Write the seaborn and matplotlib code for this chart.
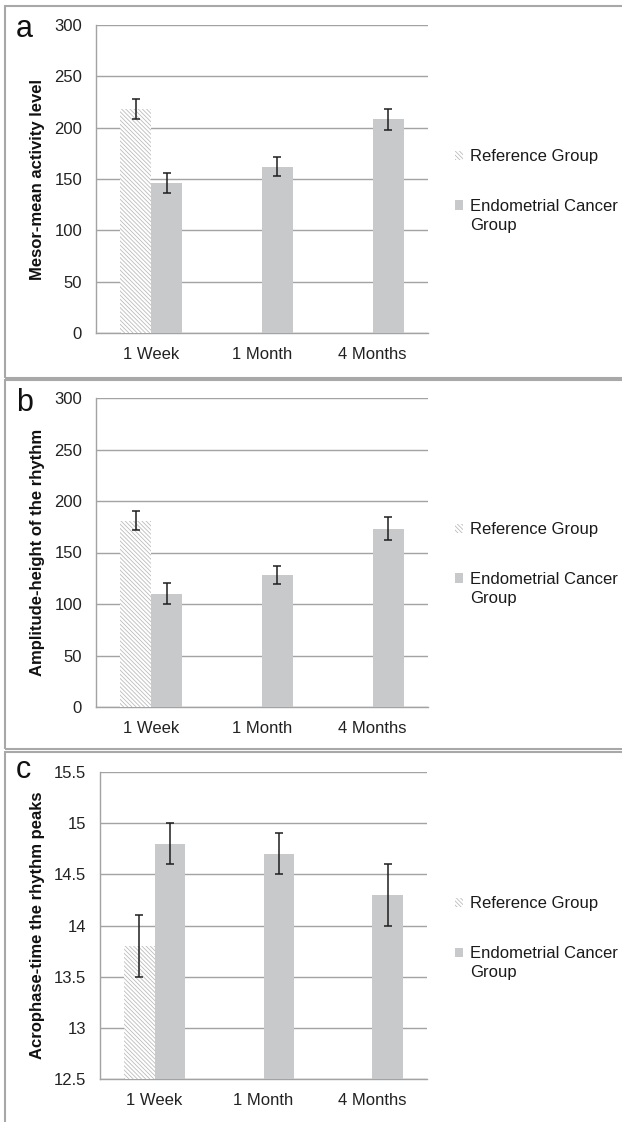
import numpy as np
import pandas as pd
import matplotlib
matplotlib.use("Agg")
import matplotlib.pyplot as plt
from matplotlib.patches import Patch, Rectangle
from matplotlib.legend_handler import HandlerPatch
import seaborn as sns

# ---------------- data ----------------
times = ["1 Week", "1 Month", "4 Months"]
groups = ["Reference Group", "Endometrial Cancer\nGroup"]

# panel a: Mesor
mesor_ref = [218]
mesor_ref_err = [10]
mesor_ec = [146, 162, 208]
mesor_ec_err = [10, 9, 10]

# panel b: Amplitude
amp_ref = [181]
amp_ref_err = [9.5]
amp_ec = [110, 128, 173]
amp_ec_err = [10, 9, 11]

# panel c: Acrophase
acro_ref = [13.8]
acro_ref_err = [0.3]
acro_ec = [14.8, 14.7, 14.3]
acro_ec_err = [0.2, 0.2, 0.3]

panel_letters = ["a", "b", "c"]
ylabels = ["Mesor-mean activity level",
           "Amplitude-height of the rhythm",
           "Acrophase-time the rhythm peaks"]
yticks_list = [[0, 50, 100, 150, 200, 250, 300],
               [0, 50, 100, 150, 200, 250, 300],
               [12.5, 13, 13.5, 14, 14.5, 15, 15.5]]
ytick_labels_list = [["0", "50", "100", "150", "200", "250", "300"],
                     ["0", "50", "100", "150", "200", "250", "300"],
                     ["12.5", "13", "13.5", "14", "14.5", "15", "15.5"]]

# ---------------- style ----------------
sns.set_theme(style="white")
plt.rcParams["font.family"] = ["Liberation Sans", "DejaVu Sans"]
plt.rcParams["hatch.linewidth"] = 0.6
HATCH_GRAY = "#bcbcbc"
plt.rcParams["hatch.color"] = HATCH_GRAY
EC_GRAY = "#c8c9cb"
GRID_GRAY = "#a3a3a3"
BORDER_GRAY = "#a8a8a8"
HATCH = "\\" * 8
FS = 12

W, H = 622, 1122
fig = plt.figure(figsize=(W / 100, H / 100), dpi=100)

# axes placement in pixels: (left, right, top, bottom)
axes_px = [(96, 428, 25, 333), (96, 428, 398, 707), (100, 427, 772, 1079)]
borders_px = [(5, 6, 378), (5, 380, 749), (5, 752, 1135)]
letter_base_px = [37, 411, 778]


def shifted_square(legend, orig_handle, xdescent, ydescent, width, height, fontsize):
    return Rectangle((-xdescent, -ydescent + 0.65 * fontsize), width, height)


panels = [
    (mesor_ref, mesor_ref_err, mesor_ec, mesor_ec_err),
    (amp_ref, amp_ref_err, amp_ec, amp_ec_err),
    (acro_ref, acro_ref_err, acro_ec, acro_ec_err),
]

for i, (ref, ref_err, ec, ec_err) in enumerate(panels):
    l, r, t, b = axes_px[i]
    ax = fig.add_axes([l / W, 1 - b / H, (r - l) / W, (b - t) / H])

    df = pd.DataFrame({
        "time": [times[0]] + times,
        "group": [groups[0]] + [groups[1]] * 3,
        "value": ref + ec,
    })
    err_lookup = {(groups[0], 0): ref_err[0]}
    for k in range(3):
        err_lookup[(groups[1], k)] = ec_err[k]
    val_lookup = {(groups[0], 0): ref[0]}
    for k in range(3):
        val_lookup[(groups[1], k)] = ec[k]

    sns.barplot(data=df, x="time", y="value", hue="group",
                order=times, hue_order=groups,
                palette=["white", EC_GRAY], width=0.56, gap=0,
                errorbar=None, legend=False, ax=ax, zorder=3)

    bar_conts = list(ax.containers)
    err_points = []
    for gi, cont in enumerate(bar_conts):
        for bar in cont:
            if bar is None or not hasattr(bar, "get_height"):
                continue
            h = bar.get_height()
            if h is None or np.isnan(h):
                continue
            bar.set_linewidth(0)
            if gi == 0:
                bar.set_facecolor("white")
                bar.set_edgecolor(HATCH_GRAY)
                bar.set_hatch(HATCH)
            else:
                bar.set_facecolor(EC_GRAY)
                bar.set_edgecolor(EC_GRAY)
            xc = bar.get_x() + bar.get_width() / 2
            k = int(round(xc))
            key = (groups[gi], k)
            if key in err_lookup:
                err_points.append((xc, val_lookup[key], err_lookup[key]))

    for xc, yv, ye in err_points:
        ax.errorbar(xc, yv, yerr=ye, fmt="none", ecolor="#1e1e1e",
                    elinewidth=1.1, capsize=3, capthick=1.1, zorder=5)

    yt = yticks_list[i]
    ax.set_ylim(yt[0], yt[-1])
    ax.set_xlim(-0.5, 2.5)
    ax.set_yticks(yt)
    ax.set_yticklabels(ytick_labels_list[i])
    ax.yaxis.grid(True, color=GRID_GRAY, linewidth=1.0, zorder=0)
    ax.set_axisbelow(True)
    ax.tick_params(axis="both", length=0, labelsize=FS, colors="#222222")
    ax.tick_params(axis="y", pad=10)
    ax.tick_params(axis="x", pad=10)
    for s in ["top", "right"]:
        ax.spines[s].set_visible(False)
    for s in ["left", "bottom"]:
        ax.spines[s].set_color(GRID_GRAY)
        ax.spines[s].set_linewidth(1.0)
    ax.set_xlabel("")
    ax.set_ylabel(ylabels[i], fontsize=12, fontweight="bold", color="#111111")
    ax.yaxis.set_label_coords((45 - l) / (r - l), 0.5)

    handles = [
        Patch(facecolor="white", edgecolor=HATCH_GRAY, hatch=HATCH, linewidth=0),
        Patch(facecolor=EC_GRAY, edgecolor=EC_GRAY, linewidth=0),
    ]
    leg = ax.legend(handles, groups, loc="center left",
                    bbox_to_anchor=((455 - l) / (r - l), (b - (191 + (t - 25))) / (b - t)),
                    frameon=False, fontsize=FS, handlelength=0.5, handleheight=0.5,
                    handletextpad=0.4, labelspacing=2.1, borderpad=0, borderaxespad=0,
                    handler_map={handles[1]: HandlerPatch(patch_func=shifted_square)})
    for txt in leg.get_texts():
        txt.set_linespacing(1.3)
        txt.set_color("#1a1a1a")

    x0, ytop, ybot = borders_px[i]
    fig.add_artist(Rectangle((x0 / W, 1 - ybot / H), (W + 20 - x0) / W, (ybot - ytop) / H,
                             transform=fig.transFigure, fill=False,
                             edgecolor=BORDER_GRAY, linewidth=1.5, clip_on=False))
    fig.text(16 / W, 1 - letter_base_px[i] / H, panel_letters[i], fontsize=22,
             ha="left", va="baseline", color="#111111")

fig.savefig("out.png", dpi=100)
